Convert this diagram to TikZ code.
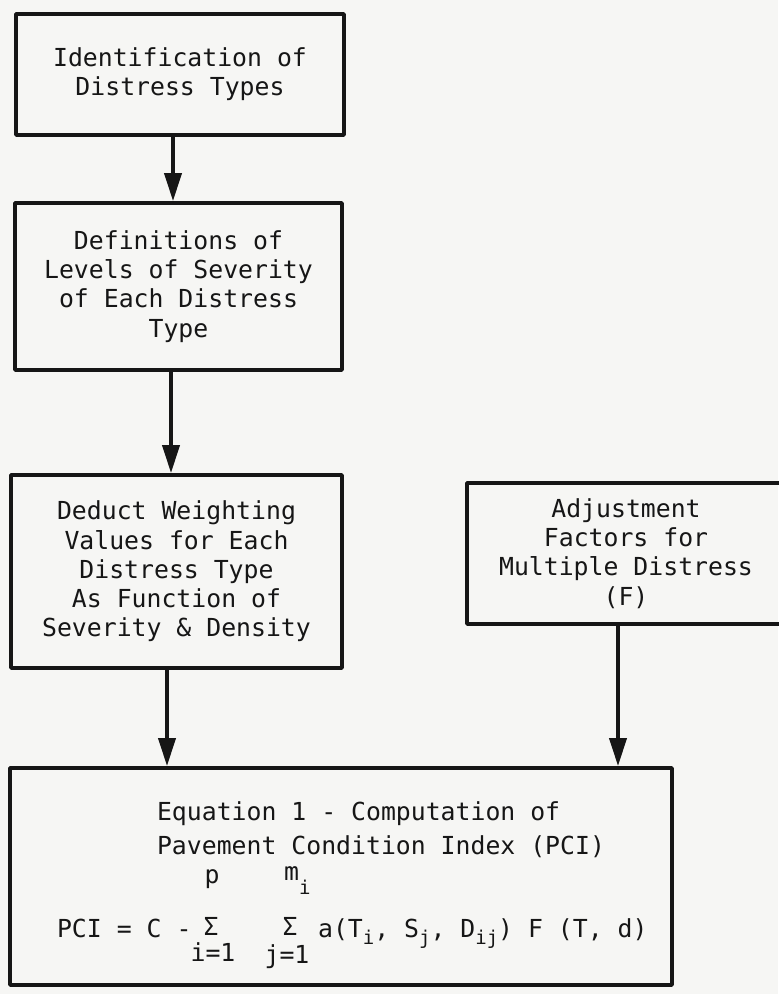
\documentclass[tikz,border=0pt]{standalone}
\usepackage{fontspec}
\newfontfamily\typer{DejaVu Sans Mono}
\usetikzlibrary{arrows.meta}
\definecolor{ink}{HTML}{161616}
\definecolor{paper}{HTML}{F6F6F4}
\newcommand{\lo}[2][.55ex]{\raisebox{-#1}{\fontsize{9.5}{9.5}\selectfont#2}}
\begin{document}
\begin{tikzpicture}[x=.5pt, y=-.5pt, line join=round, line cap=round, >={Triangle[length=14pt,width=8.5pt]},
	font=\typer\fontsize{12.4}{14.6}\selectfont, every node/.style={text=ink},
	box/.style={draw=ink, line width=1.9pt, align=center, inner sep=0pt},
	flow/.style={draw=ink, line width=1.9pt, ->}]
	\useasboundingbox (0,0) rectangle (778,994);
	\fill[paper] (0,0) rectangle (778,994);
	% boxes, 1 unit = 1 pixel of the scan
	\node[box, minimum width=164pt, minimum height=60.5pt] (idtypes) at (180,74.5) {Identification of\\Distress Types};
	\node[box, minimum width=163.5pt, minimum height=83.5pt] (levels) at (178.5,286.5) {Definitions of\\Levels of Severity\\of Each Distress\\Type};
	\node[box, minimum width=165.5pt, minimum height=96.5pt] (deduct) at (176.5,571.5) {Deduct Weighting\\Values for Each\\Distress Type\\As Function of\\Severity \& Density};
	\node[box, minimum width=159pt, minimum height=70.5pt] (adjust) at (626,553.5) {Adjustment\\Factors for\\Multiple Distress\\(F)};
	\node[box, minimum width=331pt, minimum height=108.5pt] (pci) at (341,876.5) {};
	% equation 1
	\node[anchor=base west] (title1) at (150,820) {Equation 1 - Computation of};
	\node[anchor=base west] (title2) at (150,854) {Pavement Condition Index (PCI)};
	\node[anchor=base west] (lhs) at (50,937) {PCI = C -};
	\node[anchor=base] (sumi) at (211,935) {Σ};
	\node[anchor=base] (topi) at (212,883) {p};
	\node[anchor=base] (boti) at (213,961) {i=1};
	\node[anchor=base] (sumj) at (290,935) {Σ};
	\node[anchor=base west] (topj) at (277,880) {m\lo[1.1ex]{i}};
	\node[anchor=base] (botj) at (287,963) {j=1};
	\node[anchor=base west] (terms) at (311,937) {a(T\lo{i}, S\lo{j}, D\lo{ij}) F (T, d)};
	% arrows
	\foreach \a/\b/\s in {idtypes/levels/-3.5pt, levels/deduct/-3.75pt, deduct/pci/-4.75pt, adjust/pci/-4pt}
		\draw[flow] ([xshift=\s]\a.south) -- ([xshift=\s]\a.south |- \b.north);
\end{tikzpicture}
\end{document}
